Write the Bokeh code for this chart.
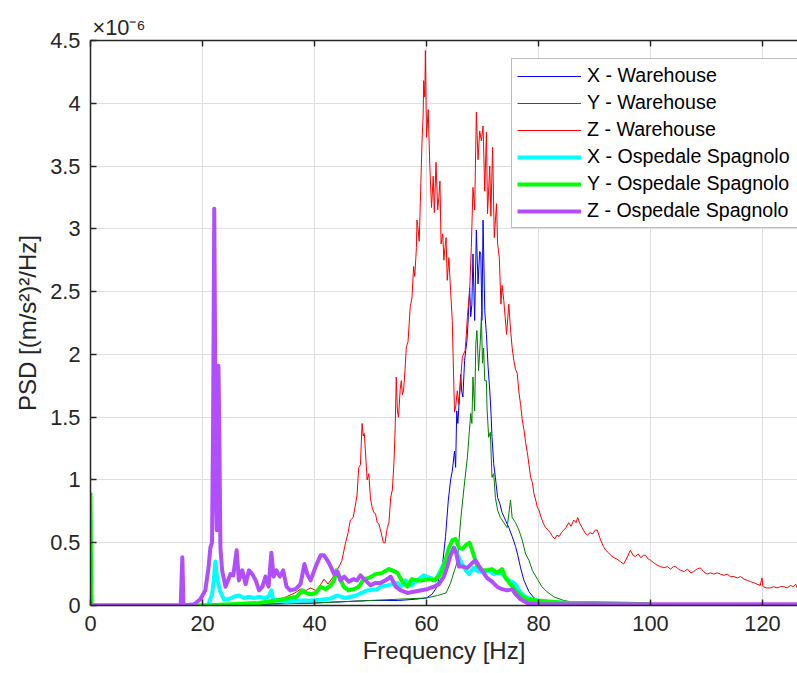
from bokeh.plotting import figure
from bokeh.models import (Range1d, LinearAxis, FixedTicker, NumeralTickFormatter,
                          Legend, LegendItem)
from bokeh.embed import file_html
from bokeh.resources import INLINE

# ---------------- data (PSD values in units of 1e-6 (m/s^2)^2/Hz) ----------------
f_xw = [0, 20, 30, 40, 45, 50, 55, 58, 60, 61, 61.9, 62.5, 62.8, 63.4, 63.9, 64.3, 64.6, 65.0,
        65.2, 65.4, 65.6, 65.8, 66.1, 66.3, 66.5, 66.8, 67.0, 67.2, 67.4, 67.7, 67.9, 68.1, 68.3,
        68.6, 68.9, 69.2, 69.5, 69.7, 69.9, 70.1, 70.4, 70.7, 71.0, 71.3, 71.5, 71.7, 72.0, 72.3,
        72.7, 73.1, 73.5, 74.1, 74.7, 75.3, 75.9, 76.3, 76.8, 77.4, 78.3, 79.2, 80.1, 82, 85, 90, 126.3]
psd_xw = [0, 0.0, 0.01, 0.02, 0.03, 0.04, 0.04, 0.05, 0.06, 0.09, 0.15, 0.28, 0.30, 0.55, 0.84, 1.0,
          1.07, 1.23, 1.10, 1.55, 1.45, 1.60, 1.84, 1.70, 1.66, 1.95, 2.03, 2.10, 2.24, 2.53, 2.30,
          2.40, 2.80, 2.27, 2.99, 2.56, 2.82, 2.80, 2.27, 3.07, 2.35, 2.16, 1.90, 1.71, 1.55, 1.34,
          1.13, 1.02, 0.86, 0.81, 0.74, 0.68, 0.62, 0.55, 0.47, 0.40, 0.30, 0.20, 0.11, 0.06, 0.04,
          0.02, 0.01, 0.005, 0.0]

f_yw = [0, 20, 30, 40, 50, 55, 60, 62, 63.5, 64.3, 65, 65.5, 66.1, 66.7, 67.3, 67.9, 68.1, 68.3,
        68.6, 68.8, 69.0, 69.3, 69.6, 69.8, 70.0, 70.2, 70.4, 70.7, 70.8, 71.1, 71.4, 71.7, 72.0,
        72.3, 72.7, 73.2, 73.8, 74.4, 75.0, 75.3, 75.9, 76.5, 77.1, 77.7, 78.3, 78.9, 79.8, 80.6,
        81.5, 82.7, 84.5, 85.7, 90, 100, 110, 126.3]
psd_yw = [0, 0.0, 0.01, 0.02, 0.04, 0.05, 0.06, 0.08, 0.10, 0.18, 0.28, 0.35, 0.68, 0.94, 1.18,
          1.53, 1.45, 1.82, 1.55, 2.08, 2.19, 1.87, 2.10, 2.30, 1.93, 2.05, 1.79, 1.79, 1.58, 1.34,
          1.38, 1.02, 1.05, 0.86, 0.76, 0.70, 0.66, 0.62, 0.84, 0.70, 0.66, 0.60, 0.52, 0.41, 0.36,
          0.28, 0.21, 0.15, 0.11, 0.07, 0.04, 0.03, 0.02, 0.01, 0.0, 0.0]

f_zw = [0, 10, 20, 25, 30, 33, 35, 36.5, 37.5, 38.5, 39.3, 40.2, 41, 41.7, 42.4, 43.2, 44.0, 44.6,
        44.9, 45.5, 46.0, 46.4, 46.9, 47.3, 47.6, 47.9, 48.2, 48.5, 48.7, 48.9, 49.2, 49.4, 49.7,
        50.0, 50.3, 50.6, 50.9, 51.2, 51.5, 51.9, 52.3, 52.6, 53.0, 53.3, 53.6, 53.9, 54.2, 54.4,
        54.6, 54.8, 55.0, 55.3, 55.5, 55.7, 55.9, 56.2, 56.4, 56.7, 56.9, 57.1, 57.4, 57.7, 57.9,
        58.2, 58.3, 58.5, 58.7, 58.9, 59.2, 59.4, 59.5, 59.7, 59.8, 60.0, 60.3, 60.6, 60.9, 61.2,
        61.4, 61.7, 62.0, 62.2, 62.4, 62.6, 62.9, 63.1, 63.3, 63.5, 63.7, 64.0, 64.3, 64.6, 64.8,
        65.0, 65.2, 65.5, 65.8, 66.1, 66.4, 66.9, 67.1, 67.3, 67.7, 68.0, 68.3, 68.6, 68.9, 69.2,
        69.5, 69.8, 70.1, 70.4, 70.7, 70.9, 71.3, 71.5, 71.8, 72.1, 72.5, 72.7, 73.0, 73.3, 73.5,
        73.8, 74.3, 74.7, 75.0, 75.3, 75.6, 75.9, 76.2, 76.5, 76.8, 77.1, 77.4, 77.7, 78.0, 78.3,
        78.6, 78.9, 79.2, 79.5, 79.8, 80.1, 80.4, 80.9, 81.3, 81.7, 82.1, 82.5, 82.9, 83.3, 83.7,
        84.1, 84.5, 84.9, 85.4, 85.8, 86.3, 86.7, 87.0, 87.4, 87.8, 88.3, 88.7, 89.2, 89.7, 90.1,
        90.5, 91.1, 91.6, 92.0, 92.5, 92.9, 93.5, 94.0, 94.6, 95.2, 95.8, 96.4, 96.9, 97.3, 97.8,
        98.3, 98.7, 99.1, 99.6, 100.0, 100.6, 101.2, 101.8, 102.4, 103.0, 103.6, 104.1, 104.5,
        105.0, 105.4, 106.0, 106.6, 107.2, 107.7, 108.3, 108.9, 109.5, 110.1, 110.7, 111.3, 111.9,
        112.5, 113.1, 113.7, 114.3, 114.9, 115.5, 116.1, 116.7, 117.3, 117.9, 118.5, 119.0, 119.6,
        119.9, 120.1, 120.7, 121.4, 122.0, 122.6, 123.2, 123.8, 124.4, 125.0, 125.5, 125.9, 126.3]
psd_zw = [0.0, 0.0, 0.005, 0.01, 0.02, 0.04, 0.07, 0.10, 0.13, 0.12, 0.14, 0.12, 0.16, 0.21, 0.17,
          0.22, 0.28, 0.33, 0.36, 0.49, 0.58, 0.68, 0.70, 0.80, 0.88, 1.10, 1.12, 1.45, 1.35, 1.37,
          1.15, 1.00, 1.05, 0.85, 0.78, 0.74, 0.73, 0.66, 0.65, 0.58, 0.50, 0.50, 0.62, 0.66, 0.86,
          0.92, 1.15, 1.40, 1.82, 1.55, 1.50, 1.72, 1.79, 1.68, 1.71, 1.90, 2.06, 2.10, 2.24, 2.38,
          2.45, 2.70, 2.62, 2.85, 3.07, 3.00, 2.90, 3.21, 3.70, 3.90, 4.18, 4.05, 4.42, 3.73, 3.95,
          3.49, 3.17, 3.42, 3.13, 3.53, 3.15, 3.25, 3.38, 2.88, 2.96, 2.75, 2.85, 2.93, 2.59, 2.77,
          2.51, 2.27, 1.90, 1.54, 1.58, 1.71, 1.60, 1.80, 1.98, 2.03, 2.15, 2.30, 2.50, 2.85, 3.33,
          3.15, 3.93, 3.55, 3.78, 3.70, 3.82, 3.30, 3.77, 3.12, 3.50, 3.10, 3.65, 2.93, 3.20, 2.88,
          2.77, 2.40, 2.55, 2.43, 2.16, 2.40, 2.20, 2.05, 1.95, 1.88, 1.85, 1.70, 1.60, 1.48, 1.40,
          1.30, 1.22, 1.12, 1.02, 0.98, 0.89, 0.84, 0.78, 0.76, 0.71, 0.65, 0.62, 0.60, 0.58, 0.55,
          0.53, 0.56, 0.55, 0.58, 0.60, 0.62, 0.66, 0.63, 0.68, 0.66, 0.70, 0.65, 0.62, 0.58, 0.56,
          0.58, 0.57, 0.60, 0.60, 0.52, 0.47, 0.44, 0.42, 0.40, 0.38, 0.37, 0.35, 0.33, 0.38, 0.44,
          0.40, 0.39, 0.41, 0.38, 0.40, 0.40, 0.37, 0.36, 0.34, 0.32, 0.31, 0.30, 0.31, 0.29, 0.31,
          0.31, 0.29, 0.28, 0.27, 0.29, 0.26, 0.27, 0.29, 0.30, 0.27, 0.25, 0.26, 0.25, 0.26, 0.25,
          0.24, 0.25, 0.23, 0.23, 0.22, 0.23, 0.21, 0.20, 0.19, 0.18, 0.17, 0.16, 0.22, 0.15, 0.14,
          0.14, 0.15, 0.14, 0.15, 0.15, 0.14, 0.16, 0.15, 0.17, 0.13]

f_xo = [0, 0.2, 15, 21, 21.7, 22.0, 22.3, 22.6, 23.1, 23.8, 24.6, 25.6, 26.5, 27.4, 28.3, 29.2,
        30.1, 31.0, 31.8, 32.3, 32.6, 33.5, 35.0, 37.5, 39.3, 41.1, 42.9, 44.0, 45.5, 47.4, 49.4,
        51.2, 51.8, 53.0, 54.8, 55.4, 56.25, 57.3, 58.3, 59.5, 60.7, 61.6, 62.5, 63.4, 64.3, 64.9,
        65.5, 66.1, 67.0, 67.6, 68.4, 69.3, 70.2, 71.1, 72.0, 72.9, 73.8, 74.7, 75.6, 76.2, 76.8,
        78.0, 79.5, 81, 85, 90, 100]
psd_xo = [0.1, 0.0, 0.0, 0.0, 0.09, 0.20, 0.35, 0.22, 0.12, 0.05, 0.05, 0.07, 0.08, 0.06, 0.07,
          0.06, 0.07, 0.06, 0.07, 0.12, 0.05, 0.04, 0.03, 0.04, 0.04, 0.045, 0.055, 0.08, 0.06,
          0.08, 0.12, 0.13, 0.15, 0.16, 0.18, 0.15, 0.20, 0.16, 0.20, 0.24, 0.22, 0.20, 0.28, 0.36,
          0.41, 0.46, 0.41, 0.35, 0.28, 0.25, 0.30, 0.27, 0.27, 0.28, 0.25, 0.27, 0.24, 0.20, 0.18,
          0.15, 0.10, 0.06, 0.04, 0.03, 0.02, 0.015, 0.01]

f_yo = [0, 0.15, 20, 25, 30, 31.5, 33.2, 35.0, 36.8, 37.8, 38.5, 39.3, 40.2, 41.1, 42.0, 42.9,
        43.5, 43.9, 44.4, 45.2, 46.1, 47.0, 47.9, 48.8, 49.7, 50.9, 52.1, 53.3, 53.9, 54.8, 55.7,
        56.6, 57.4, 58.3, 59.2, 60.4, 61.5, 62.5, 63.4, 64.0, 64.6, 65.2, 65.8, 66.4, 67.0, 67.7,
        68.3, 69.0, 69.9, 70.8, 71.7, 72.6, 73.5, 74.1, 75.0, 75.9, 76.8, 78.0, 79.8, 85, 90, 100]
psd_yo = [0.90, 0.0, 0.0, 0.01, 0.02, 0.03, 0.04, 0.055, 0.07, 0.12, 0.10, 0.09, 0.10, 0.15, 0.13,
          0.16, 0.20, 0.28, 0.24, 0.15, 0.12, 0.13, 0.15, 0.21, 0.22, 0.25, 0.26, 0.29, 0.28, 0.26,
          0.19, 0.15, 0.21, 0.20, 0.20, 0.21, 0.20, 0.25, 0.36, 0.46, 0.52, 0.53, 0.46, 0.45, 0.48,
          0.50, 0.42, 0.32, 0.28, 0.28, 0.29, 0.26, 0.29, 0.22, 0.17, 0.12, 0.08, 0.05, 0.04, 0.02,
          0.02, 0.01]

f_zo = [0, 16.1, 16.4, 16.6, 18.5, 19.6, 20.5, 21.1, 21.4, 21.7, 21.9, 22.1, 22.4, 22.55, 22.85,
        23.0, 23.2, 23.5, 24.1, 25.0, 25.5, 26.1, 26.5, 27.1, 27.7, 28.3, 28.9, 29.5, 30.1, 30.7,
        31.25, 31.8, 32.3, 32.7, 33.2, 33.8, 34.4, 35.0, 35.7, 36.6, 37.5, 38.2, 38.7, 39.3, 40.2,
        41.1, 41.7, 42.3, 42.9, 43.5, 44.1, 44.6, 45.3, 46.1, 47.0, 47.6, 48.2, 49.1, 50.0, 50.9,
        51.8, 52.7, 53.6, 54.5, 55.4, 56.6, 57.7, 58.9, 60.1, 61.3, 62.2, 63.1, 63.7, 64.3, 64.9,
        65.3, 65.8, 66.5, 67.3, 68.2, 68.75, 69.3, 69.9, 70.8, 71.7, 72.6, 73.5, 74.4, 75.3, 75.9,
        76.8, 78.0, 80, 126.3]
psd_zo = [0.0, 0.0, 0.385, 0.0, 0.01, 0.05, 0.12, 0.31, 0.46, 0.50, 1.5, 3.16, 0.9, 0.6, 1.91, 1.4,
          0.46, 0.28, 0.15, 0.25, 0.24, 0.44, 0.20, 0.28, 0.17, 0.28, 0.25, 0.20, 0.12, 0.15, 0.23,
          0.15, 0.42, 0.23, 0.28, 0.23, 0.28, 0.15, 0.12, 0.13, 0.17, 0.33, 0.25, 0.20, 0.31, 0.40,
          0.40, 0.36, 0.31, 0.25, 0.27, 0.20, 0.23, 0.19, 0.21, 0.20, 0.24, 0.20, 0.16, 0.18, 0.18,
          0.20, 0.23, 0.15, 0.12, 0.10, 0.11, 0.12, 0.13, 0.15, 0.17, 0.23, 0.31, 0.40, 0.46, 0.42,
          0.31, 0.31, 0.30, 0.34, 0.36, 0.32, 0.28, 0.22, 0.19, 0.15, 0.13, 0.12, 0.13, 0.09, 0.05,
          0.02, 0.01, 0.01]

x_ticks = [0, 20, 40, 60, 80, 100, 120]
y_ticks = [0, 0.5, 1, 1.5, 2, 2.5, 3, 3.5, 4, 4.5]

series = [
    ("X - Warehouse", f_xw, psd_xw, "#0000FF", 1),
    ("Y - Warehouse", f_yw, psd_yw, "#008000", 1),
    ("Z - Warehouse", f_zw, psd_zw, "#FF0000", 1),
    ("X - Ospedale Spagnolo", f_xo, psd_xo, "#00FFFF", 4),
    ("Y - Ospedale Spagnolo", f_yo, psd_yo, "#00FF00", 4),
    ("Z - Ospedale Spagnolo", f_zo, psd_zo, "#B14EFF", 4),
]

FONT = "Liberation Sans"
AX = "#262626"

p = figure(width=797, height=673, output_backend="svg", toolbar_location=None,
           x_range=Range1d(0, 126.25), y_range=Range1d(0, 4.5),
           min_border_left=90, min_border_right=0, min_border_top=40, min_border_bottom=68,
           x_axis_label="Frequency [Hz]", y_axis_label="PSD [(m/s²)²/Hz]")
p.outline_line_color = None
p.background_fill_color = "white"
p.border_fill_color = "white"

# exponent of the y axis shown as the (left-aligned) title
p.title.text = "×10⁻⁶"
p.title.align = "left"
p.title.offset = 2
p.title.standoff = 1
p.title.text_font = FONT
p.title.text_font_size = "21.8px"
p.title.text_font_style = "normal"
p.title.text_color = AX

items = []
for name, fx, fy, col, lw in series:
    r = p.line(fx, fy, line_color=col, line_width=lw, line_join="round")
    items.append(LegendItem(label=name, renderers=[r]))

for ax in (p.xaxis[0], p.yaxis[0]):
    ax.axis_line_color = AX
    ax.axis_line_width = 1.5
    ax.major_tick_line_color = AX
    ax.major_tick_line_width = 1.5
    ax.major_tick_in = 6
    ax.major_tick_out = 0
    ax.minor_tick_line_color = None
    ax.major_label_text_font = FONT
    ax.major_label_text_font_size = "21.8px"
    ax.major_label_text_color = AX
    ax.axis_label_text_font = FONT
    ax.axis_label_text_font_size = "24px"
    ax.axis_label_text_font_style = "normal"
    ax.axis_label_text_color = AX

p.xaxis[0].ticker = FixedTicker(ticks=x_ticks)
p.yaxis[0].ticker = FixedTicker(ticks=y_ticks)
p.yaxis[0].formatter = NumeralTickFormatter(format="0.[0]")
p.xaxis[0].major_label_standoff = 10
p.xaxis[0].axis_label_standoff = 3
p.yaxis[0].major_label_standoff = 10
p.yaxis[0].axis_label_standoff = 6

top = LinearAxis(ticker=FixedTicker(ticks=x_ticks), axis_line_color=AX, axis_line_width=1.5,
                 major_tick_line_color=AX, major_tick_line_width=1.5, major_tick_in=6,
                 major_tick_out=0, minor_tick_line_color=None,
                 major_label_text_font_size="0px", major_label_text_color=None,
                 major_label_standoff=0)
p.add_layout(top, "above")

p.xgrid.ticker = FixedTicker(ticks=x_ticks)
p.ygrid.ticker = FixedTicker(ticks=y_ticks)
for g in (p.xgrid[0], p.ygrid[0]):
    g.grid_line_color = "#DFDFDF"
    g.grid_line_width = 1

legend = Legend(items=items, location=(421, 377), margin=0,
                label_text_font=FONT, label_text_font_size="19.6px", label_text_color="black",
                glyph_width=64, glyph_height=22, label_height=22, label_width=215,
                spacing=4, padding=5, label_standoff=6,
                border_line_color="#7A7A7A", border_line_width=1,
                background_fill_color="white", background_fill_alpha=1.0)
p.add_layout(legend)

open("out.html", "w").write(file_html(p, INLINE))
